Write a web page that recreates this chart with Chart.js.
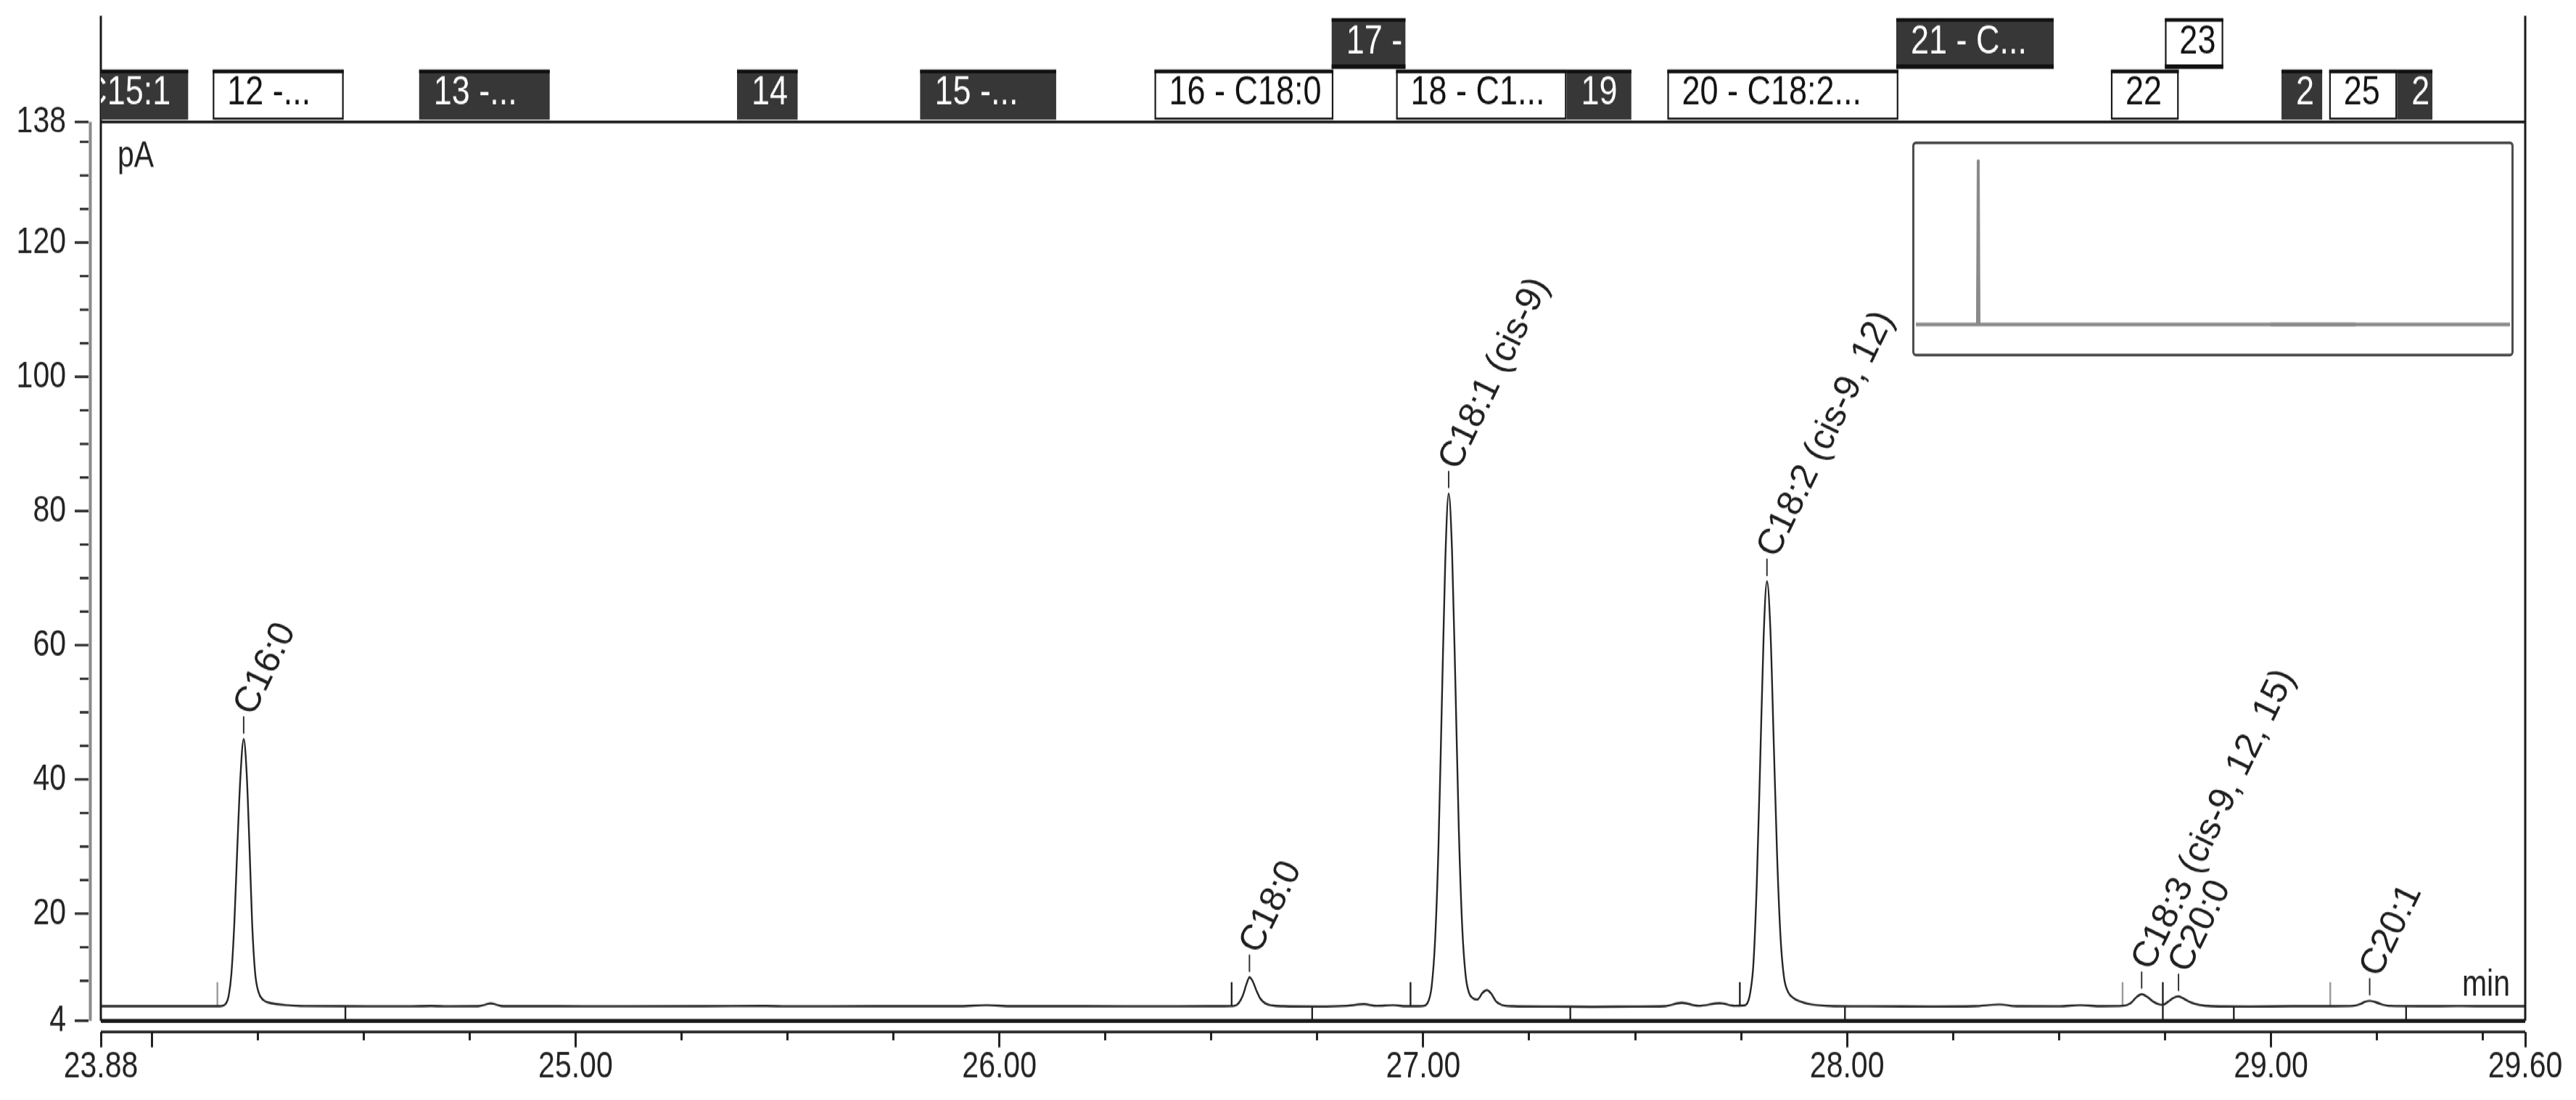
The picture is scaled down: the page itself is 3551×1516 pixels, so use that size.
<!DOCTYPE html>
<html><head><meta charset="utf-8">
<script src="https://cdn.jsdelivr.net/npm/chart.js@4.4.1/dist/chart.umd.min.js"></script>
<style>
html,body{margin:0;padding:0;background:#fff;overflow:hidden;width:3551px;height:1516px;}
#wrap{position:absolute;left:0;top:0;width:3551px;height:1213px;transform-origin:0 0;transform:scaleY(1.24979);}
#mainBox{position:absolute;left:0;top:0;width:3551px;height:1213px;}
#insetBox{position:absolute;left:2636px;top:156px;width:829px;height:237px;box-sizing:border-box;border:3px solid #4d4d4d;border-radius:5px;background:#fff;}
</style></head><body>
<div id="wrap"><div id="mainBox"><canvas id="main"></canvas></div><div id="insetBox"><canvas id="inset"></canvas></div></div>
<script>
// ---------------- data ----------------
const timeMin = [23.88,23.95,24.05,24.12,24.16,
 24.175,24.182,24.188,24.195,24.202,24.209,24.217,24.224,24.231,24.237,24.244,24.252,24.262,24.275,24.295,24.32,24.36,
 24.45,24.60,24.66,24.70,24.77,24.80,24.83,24.95,25.10,25.30,25.45,25.50,25.70,25.90,25.97,26.03,26.20,26.40,26.53,
 26.555,26.565,26.575,26.583,26.590,26.597,26.606,26.616,26.628,26.645,26.67,26.75,26.82,26.86,26.89,26.93,26.96,26.99,
 27.004,27.012,27.020,27.028,27.036,27.044,27.052,27.060,27.068,27.076,27.084,27.092,27.100,27.108,27.117,27.128,27.140,27.150,27.160,27.172,27.185,27.21,
 27.30,27.40,27.50,27.57,27.61,27.65,27.70,27.735,27.755,
 27.765,27.772,27.779,27.787,27.795,27.803,27.811,27.819,27.827,27.835,27.843,27.851,27.861,27.872,27.887,27.905,27.93,27.97,
 28.05,28.20,28.30,28.36,28.40,28.50,28.55,28.60,28.65,
 28.668,28.682,28.695,28.708,28.722,28.735,28.745,28.758,28.770,28.782,28.795,28.81,28.83,28.86,
 28.95,29.05,29.15,29.195,29.21,29.222,29.233,29.245,29.26,29.28,29.35,29.45,29.52,29.60];
const signalPA = [6.2,6.2,6.2,6.2,6.2,
 6.6,7.9,11.0,18.6,29.8,40.0,46.0,41.0,29.5,18.5,11.2,8.3,7.2,6.75,6.5,6.35,6.22,
 6.2,6.18,6.24,6.18,6.2,6.6,6.2,6.2,6.18,6.2,6.23,6.18,6.2,6.2,6.35,6.2,6.2,6.18,6.2,
 6.25,6.7,7.9,9.5,10.5,10.0,8.6,7.3,6.6,6.3,6.2,6.15,6.25,6.5,6.25,6.35,6.2,6.2,
 6.3,6.9,9.2,16.0,30.0,51.5,72.5,82.6,74.0,54.0,32.5,18.0,10.8,8.2,7.4,7.2,8.2,8.6,8.1,6.9,6.4,6.2,
 6.15,6.1,6.15,6.2,6.7,6.25,6.65,6.25,6.3,
 6.7,8.4,12.5,24.5,42.5,61.0,69.5,62.5,45.5,28.5,16.5,10.6,8.3,7.5,6.95,6.6,6.35,6.2,
 6.18,6.15,6.2,6.45,6.2,6.18,6.35,6.2,6.25,
 6.6,7.5,8.0,7.6,6.9,6.5,6.4,6.9,7.45,7.65,7.3,6.8,6.4,6.2,
 6.15,6.2,6.2,6.25,6.5,6.85,7.0,6.85,6.5,6.25,6.2,6.22,6.2,6.2];
const baselinePA = 6.15;

const peakNames = ['C16:0','C18:0','C18:1 (cis-9)','C18:2 (cis-9, 12)','C18:3 (cis-9, 12, 15)','C20:0','C20:1'];
const peakTimes = [24.217,26.590,27.060,27.811,28.695,28.782,29.233];
const peakApex  = [46.0,10.5,82.6,69.5,8.0,7.65,7.0];

const xTickValues = [23.88,24.00,24.25,24.50,24.75,25.00,25.25,25.50,25.75,26.00,26.25,26.50,26.75,27.00,27.25,27.50,27.75,28.00,28.25,28.50,28.75,29.00,29.25,29.50,29.60];
const xLabelValues = [23.88,25.00,26.00,27.00,28.00,29.00,29.60];
const xLabelTexts = ['23.88','25.00','26.00','27.00','28.00','29.00','29.60'];
const xLongTicks = [23.88,24.00,25.00,26.00,27.00,28.00,29.00,29.60];
const yTickValues = [4,10,15,20,25,30,35,40,45,50,55,60,65,70,75,80,85,90,95,100,105,110,115,120,125,130,135,138];
const yLabelValues = [4,20,40,60,80,100,120,138];

const bandLabels = ['C15:1','12 -...','13 -...','14','15 -...','16 - C18:0','18 - C1...','19','20 - C18:2...','22','2','25','2','17 -','21 - C...','23'];
const bandStart  = [23.70,24.144,24.631,25.381,25.813,26.366,26.936,27.338,27.576,28.6225,29.025,29.1375,29.2975,26.784,28.116,28.750];
const bandEnd    = [24.086,24.453,24.939,25.524,26.134,26.788,27.338,27.491,28.121,28.7825,29.121,29.2975,29.381,26.958,28.4875,28.8875];
const bandRow    = [1,1,1,1,1,1,1,1,1,1,1,1,1,0,0,0];
const bandDark   = [1,0,1,1,1,0,0,1,0,0,1,0,1,1,1,0];

const markerTimes = [24.155,26.548,26.970,27.747,28.650,28.745,29.140];
const markerDark  = [0,1,1,1,0,1,0];
const dividerTimes = [24.457,26.738,27.347,27.995,28.745,28.9125,29.319];

const insetTimes  = [0,4.15,4.20,4.25,40];
const insetValues = [0,0,80,0,0];
const insetWindow = [23.88,29.60];

// ---------------- drawing ----------------
const FONT = "'Liberation Sans', Arial, Helvetica, sans-serif";
const K = 1516 / 1213;           // vertical stretch applied to the page
const near = (a, list) => list.some(v => Math.abs(v - a) < 1e-6);

function drawBand(ctx, x1, x2, y1, y2, dark, text, alignRight, upper) {
  const w = x2 - x1, h = y2 - y1;
  if (w <= 0) return;
  if (dark) {
    ctx.fillStyle = '#373737'; ctx.fillRect(x1, y1, w, h);
    ctx.fillStyle = '#111'; ctx.fillRect(x1, y1, w, 4);
    if (upper) ctx.fillRect(x1, y2 - 5, w, 5);
  } else {
    ctx.fillStyle = '#fff'; ctx.fillRect(x1, y1, w, h);
    ctx.strokeStyle = '#1a1a1a'; ctx.lineWidth = 2.2;
    ctx.strokeRect(x1 + 1.1, y1 + 1.1, w - 2.2, h - 2.2);
    ctx.fillStyle = '#111'; ctx.fillRect(x1, y1, w, 4);
    if (upper) ctx.fillRect(x1, y2 - 5, w, 5);
  }
  ctx.save();
  ctx.beginPath(); ctx.rect(x1, y1, w, h); ctx.clip();
  ctx.fillStyle = dark ? '#fff' : '#111';
  ctx.font = '45px ' + FONT;
  ctx.textBaseline = 'middle';
  const ty = y1 + h * 0.42 + 3;
  if (alignRight) { ctx.textAlign = 'right'; ctx.fillText(text, x2 - 24, ty); }
  else { ctx.textAlign = 'left'; ctx.fillText(text, x1 + 20, ty); }
  ctx.restore();
}

const deco = {
  id: 'deco',
  beforeDatasetsDraw(chart) {
    const {ctx, chartArea: a, scales: {x, y}} = chart;
    const yb = y.getPixelForValue(baselinePA);
    ctx.save();
    markerTimes.forEach((t, i) => {
      const px = x.getPixelForValue(t);
      ctx.strokeStyle = markerDark[i] ? '#222' : '#9a9a9a';
      ctx.lineWidth = 2.4;
      ctx.beginPath(); ctx.moveTo(px, yb); ctx.lineTo(px, yb - 27); ctx.stroke();
    });
    dividerTimes.forEach(t => {
      const px = x.getPixelForValue(t);
      ctx.strokeStyle = '#222'; ctx.lineWidth = 2.4;
      ctx.beginPath(); ctx.moveTo(px, yb); ctx.lineTo(px, a.bottom); ctx.stroke();
    });
    ctx.restore();
  },
  afterDraw(chart) {
    const {ctx, chartArea: a, scales: {x, y}} = chart;
    ctx.save();
    // frame
    ctx.strokeStyle = '#1a1a1a';
    ctx.lineWidth = 3;
    ctx.beginPath();
    ctx.moveTo(a.left, 17.6); ctx.lineTo(a.left, a.bottom);
    ctx.moveTo(a.right, 17.6); ctx.lineTo(a.right, a.bottom);
    ctx.moveTo(a.left, a.top); ctx.lineTo(a.right, a.top);
    ctx.stroke();
    ctx.lineWidth = 4.5;
    ctx.beginPath(); ctx.moveTo(a.left, a.bottom); ctx.lineTo(a.right, a.bottom); ctx.stroke();
    // x axis line (offset below plot)
    ctx.lineWidth = 2.8;
    ctx.beginPath(); ctx.moveTo(a.left, a.bottom + 12); ctx.lineTo(a.right, a.bottom + 12); ctx.stroke();
    // y axis bar
    ctx.strokeStyle = '#8a8a8a'; ctx.lineWidth = 4;
    ctx.beginPath(); ctx.moveTo(124.5, y.getPixelForValue(138)); ctx.lineTo(124.5, a.bottom); ctx.stroke();

    // bands
    const rows = [[20, 76], [76.8, 132]];
    bandLabels.forEach((lab, i) => {
      const x1 = Math.max(x.getPixelForValue(bandStart[i]), a.left);
      const x2 = Math.min(x.getPixelForValue(bandEnd[i]), a.right);
      const r = rows[bandRow[i]];
      drawBand(ctx, x1, x2, r[0], r[1], bandDark[i] === 1, lab, bandStart[i] < 23.88, bandRow[i] === 0);
    });

    // unit labels
    ctx.fillStyle = '#222';
    ctx.font = '41px ' + FONT;
    ctx.textAlign = 'left'; ctx.textBaseline = 'middle';
    ctx.fillText('pA', 162, 173);
    ctx.textAlign = 'right'; ctx.textBaseline = 'alphabetic';
    ctx.fillText('min', 3460, 1098);

    // peak labels (un-sheared: undo the page stretch before rotating)
    peakNames.forEach((name, i) => {
      const px = x.getPixelForValue(peakTimes[i]);
      const py = y.getPixelForValue(peakApex[i]);
      ctx.strokeStyle = '#333'; ctx.lineWidth = 2;
      ctx.beginPath(); ctx.moveTo(px, py - 6); ctx.lineTo(px, py - 25); ctx.stroke();
      ctx.save();
      ctx.translate(px, py - 28);
      ctx.scale(1, 1 / K);
      ctx.rotate(-64 * Math.PI / 180);
      ctx.fillStyle = '#1e1e1e';
      ctx.font = '50px ' + FONT;
      ctx.textAlign = 'left'; ctx.textBaseline = 'middle';
      ctx.fillText(name, 2, 0);
      ctx.restore();
    });
    ctx.restore();
  }
};

new Chart(document.getElementById('main'), {
  type: 'line',
  data: { datasets: [{
    data: timeMin.map((t, i) => ({x: t, y: signalPA[i]})),
    borderColor: '#262626', borderWidth: 2.4, pointRadius: 0,
    cubicInterpolationMode: 'monotone', fill: false
  }]},
  options: {
    responsive: true, maintainAspectRatio: false, animation: false, devicePixelRatio: 1,
    layout: { padding: { top: 134.4, right: 70, left: 0, bottom: 0 } },
    plugins: { legend: {display: false}, tooltip: {enabled: false} },
    scales: {
      x: {
        type: 'linear', position: 'bottom', min: 23.88, max: 29.60,
        afterFit: s => { s.height = 87.2; },
        afterBuildTicks: s => { s.ticks = xTickValues.map(v => ({value: v})); },
        ticks: {
          autoSkip: false, maxRotation: 0, minRotation: 0, padding: -3, color: '#222',
          font: {family: FONT, size: 41},
          callback: (v) => { const k = xLabelValues.findIndex(l => Math.abs(l - v) < 1e-6); return k >= 0 ? xLabelTexts[k] : ''; }
        },
        grid: {
          display: true, drawOnChartArea: false, drawTicks: true, tickLength: 29, tickWidth: 3, tickColor: '#222',
          tickBorderDash: c => (c.tick && near(c.tick.value, xLongTicks)) ? [0, 12, 17, 200] : [0, 12, 9, 200]
        },
        border: { display: false }
      },
      y: {
        type: 'linear', position: 'left', min: 4, max: 138,
        afterFit: s => { s.width = 139; },
        afterBuildTicks: s => { s.ticks = yTickValues.map(v => ({value: v})); },
        ticks: {
          autoSkip: false, padding: 12, color: '#222',
          font: {family: FONT, size: 41},
          callback: (v) => near(v, yLabelValues) ? String(v) : ''
        },
        grid: {
          display: true, drawOnChartArea: false, drawTicks: true, tickLength: 36, tickWidth: 2.6, tickColor: '#222',
          tickBorderDash: c => (c.tick && near(c.tick.value, yLabelValues)) ? [19, 200] : [0, 7, 12, 200]
        },
        border: { display: false }
      }
    }
  },
  plugins: [deco]
});

new Chart(document.getElementById('inset'), {
  type: 'line',
  data: { datasets: [
    { data: insetTimes.map((t, i) => ({x: t, y: insetValues[i]})), borderColor: '#8a8a8a', borderWidth: 4, pointRadius: 0, tension: 0 },
    { data: insetWindow.map(t => ({x: t, y: 0})), borderColor: '#5e5e5e', borderWidth: 4, pointRadius: 0, tension: 0 },
    { data: insetTimes.slice(1, 4).map((t, i) => ({x: t, y: insetValues[i + 1]})), borderColor: '#444', borderWidth: 2.6, pointRadius: 0, tension: 0 }
  ]},
  options: {
    responsive: true, maintainAspectRatio: false, animation: false, devicePixelRatio: 1,
    layout: { padding: 0 },
    plugins: { legend: {display: false}, tooltip: {enabled: false} },
    scales: {
      x: { type: 'linear', display: false, min: 0, max: 40 },
      y: { type: 'linear', display: false, min: -13.3, max: 86.7 }
    }
  }
});
</script></body></html>
